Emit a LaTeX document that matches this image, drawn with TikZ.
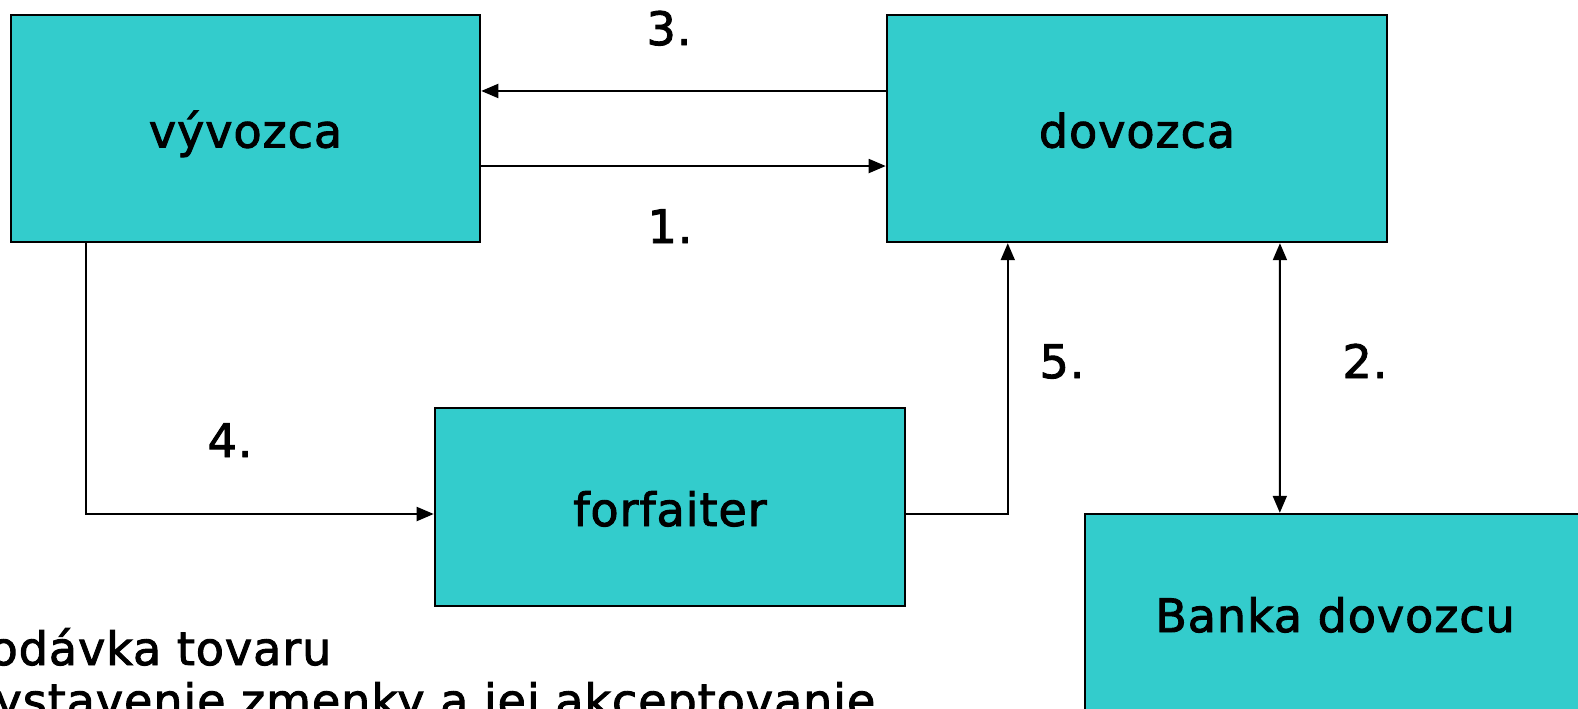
\documentclass[tikz,border=0pt]{standalone}
\usepackage{fontspec}
\setmainfont[LetterSpace=2, FakeBold=2]{DejaVu Sans}
\usepackage{tikz}
\usetikzlibrary{arrows.meta}
\definecolor{tyrkys}{HTML}{33CCCC}

\begin{document}
\begin{tikzpicture}[x=0.01cm, y=-0.01cm,
            font=\fontsize{13.1}{16}\selectfont,
            >={Triangle[length=0.17cm, width=0.14cm]},
            box/.style={draw=black, line width=0.65pt, fill=tyrkys, inner sep=0pt, text height=0.38cm, text depth=0pt},
            arr/.style={line width=0.55pt, ->},
            num/.style={anchor=base, inner sep=0pt}]
            \useasboundingbox (0,0) rectangle (1578,709);
            \node[box, minimum width=4.69cm, minimum height=2.27cm] (vyv) at (245.5,128.5) {vývozca};
            \node[box, minimum width=5cm, minimum height=2.27cm] (dov) at (1137,128.5) {dovozca};
            \node[box, minimum width=4.7cm, minimum height=1.98cm] (forf) at (670,507) {forfaiter};
            \node[box, minimum width=5cm, minimum height=1.98cm] (bank) at (1335,613) {Banka dovozcu};

            \draw[arr] ([yshift=0.375cm]dov.west) -- ([yshift=0.375cm]vyv.east);
            \draw[arr] ([yshift=-0.375cm]vyv.east) -- ([yshift=-0.375cm]dov.west);
            \draw[arr] ([xshift=0.76cm]vyv.south west) |- ([yshift=-0.07cm]forf.west);
            \draw[arr] ([yshift=-0.07cm]forf.east) -| ([xshift=1.22cm]dov.south west);
            \draw[arr, <->] ([xshift=3.94cm]dov.south west) -- ([xshift=1.96cm]bank.north west);

            \node[num] (n3) at (669,45) {3.};
            \node[num] (n1) at (670,243) {1.};
            \node[num] (n4) at (230,457) {4.};
            \node[num] (n5) at (1062,378) {5.};
            \node[num] (n2) at (1365,378) {2.};

            \node[anchor=base east, inner sep=0pt] (pol1) at (332,665) {dodávka tovaru};
            \node[anchor=base east, inner sep=0pt] (pol2) at (876,717) {vystavenie zmenky a jej akceptovanie};
        \end{tikzpicture}
\end{document}
